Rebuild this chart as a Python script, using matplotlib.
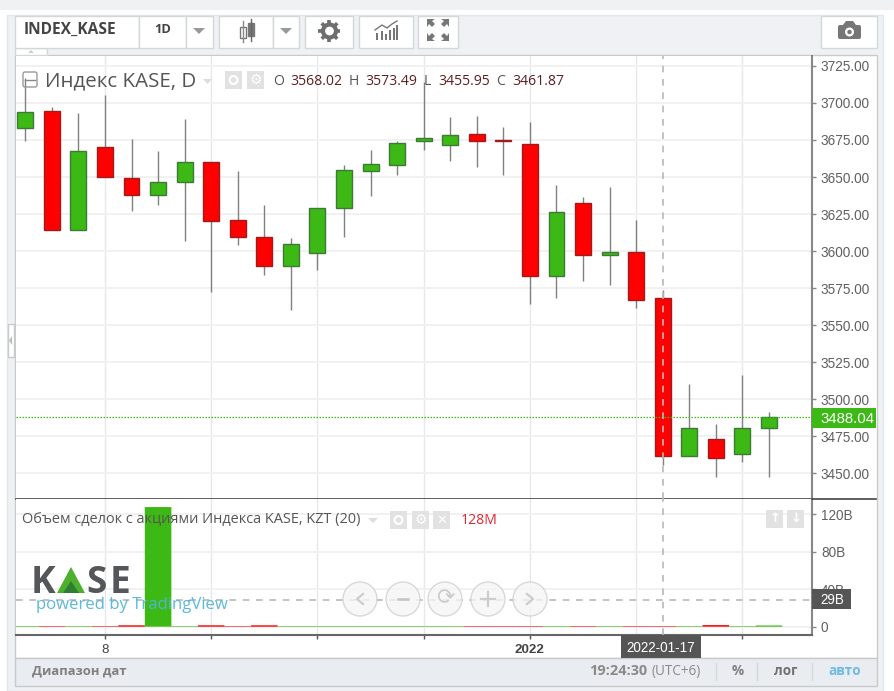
import matplotlib
matplotlib.use("Agg")
import matplotlib.pyplot as plt
from matplotlib.patches import Rectangle, Circle, Polygon, FancyBboxPatch
from matplotlib.transforms import Bbox
import math

# Data
opens = [3682.8, 3694.3, 3614.2, 3670.4, 3649.5, 3638.0, 3646.6, 3660.3, 3620.7, 3609.6,
         3589.9, 3598.4, 3629.0, 3654.2, 3658.2, 3674.4, 3671.7, 3679.2, 3675.0, 3672.2,
         3583.1, 3632.6, 3597.5, 3599.3, 3568.02, 3461.5, 3473.3, 3463.0, 3480.8]
highs = [3716.7, 3697.0, 3692.9, 3705.3, 3675.8, 3667.3, 3689.3, 3660.3, 3653.8, 3631.0,
         3609.0, 3629.0, 3658.0, 3668.2, 3674.2, 3714.2, 3690.2, 3691.1, 3683.5, 3686.8,
         3644.5, 3636.2, 3643.4, 3620.9, 3573.49, 3510.3, 3483.1, 3516.3, 3491.4]
lows = [3674.4, 3614.2, 3614.2, 3649.9, 3627.0, 3631.0, 3606.7, 3572.1, 3604.0, 3583.6,
        3560.2, 3587.2, 3609.2, 3637.1, 3651.5, 3668.2, 3660.9, 3656.5, 3651.3, 3564.2,
        3568.5, 3579.8, 3576.9, 3561.7, 3455.95, 3461.5, 3447.7, 3457.8, 3447.7]
closes = [3694.0, 3614.2, 3667.3, 3649.9, 3638.0, 3646.8, 3660.3, 3620.2, 3609.2, 3589.9,
          3604.5, 3629.0, 3654.7, 3658.7, 3673.1, 3676.5, 3678.1, 3674.4, 3674.6, 3583.1,
          3626.5, 3597.5, 3599.5, 3567.1, 3461.87, 3480.4, 3460.5, 3480.4, 3488.04]
volumes = [0.6, 0.6, 0.6, 0.6, 1.5, 127.7, 0.6, 1.5, 0.6, 1.5,
           0.6, 0.6, 0.6, 0.6, 0.6, 0.6, 0.6, 0.6, 0.6, 0.6,
           0.6, 0.6, 0.6, 0.6, 0.6, 0.6, 1.7, 0.6, 1.3]
price_ticks = [3450, 3475, 3500, 3525, 3550, 3575, 3600, 3625, 3650, 3675, 3700, 3725]
vol_ticks = [0, 40, 80, 120]
vol_tick_labels = ["0", "40B", "80B", "120B"]
grid_days = [3, 7, 11, 15, 19, 23, 27]
grid_labels = ["8", "", "", "", "2022", "", ""]
last_price = 3488.04
cross_day = 24
cross_vol = 29

GREEN = "#3cb914"
RED = "#ff0000"
UI = "Open Sans"
W, H = 895, 691

fig = plt.figure(figsize=(W / 100, H / 100), dpi=100, facecolor="white")


def panel(x0, y0, x1, y1, z):
    return fig.add_axes([x0 / W, 1 - y1 / H, (x1 - x0) / W, (y1 - y0) / H], zorder=z)


# Page background, pixel coordinates
bg = panel(0, 0, W, H, 0)
bg.set_xlim(0, W)
bg.set_ylim(H, 0)
bg.axis("off")
# Overlay for labels and widgets
ov = panel(0, 0, W, H, 5)
ov.set_xlim(0, W)
ov.set_ylim(H, 0)
ov.axis("off")
ov.patch.set_alpha(0)


def box(a, x0, y0, x1, y1, fc="white", ec="#d4d7da", lw=1, **kw):
    a.add_patch(Rectangle((x0, y0), x1 - x0, y1 - y0, fc=fc, ec=ec, lw=lw, **kw))


def label(x, y, s, px, color="#555555", ha="left", va="center", weight="normal", family=UI, **kw):
    return ov.text(x, y, s, fontsize=px * 0.72, color=color, ha=ha, va=va,
                   fontweight=weight, family=family, **kw)


box(bg, 0, 0, W, 10, fc="#f0f1f3", ec="none")
box(bg, 7, 15, 883, 691, fc="#f0f1f5", ec="#e4e6e9")
box(bg, 15, 48, 877, 686, fc="#f0f1f5", ec="none")
box(bg, 15, 55, 877, 658, fc="white", ec="#c8cacc", lw=1)
box(bg, 15, 658, 877, 686, fc="#e9ecf0", ec="#c8cacc", lw=1)
box(bg, 15, 48, 47, 55, fc="white", ec="#d4d7da")
bg.add_patch(Polygon([(28, 53), (34, 53), (31, 50)], fc="#cccccc", ec="none"))
box(bg, 8, 324, 14, 357, fc="white", ec="#c8cacc")
bg.add_patch(Polygon([(12, 336), (12, 345), (9, 340.5)], fc="#bbbbbb", ec="none"))

# Toolbar cells
for x0, x1 in [(15, 139), (139, 186), (186, 213), (219, 273), (273, 299), (305, 353),
               (359, 413), (418, 458), (821, 877)]:
    box(bg, x0, 15.5, x1, 48)
label(24, 30, "INDEX_KASE", 15.5, color="#444444", weight="bold")
label(163, 29.5, "1D", 13, color="#444444", ha="center", weight="bold")
for cx in [199, 286]:
    ov.add_patch(Polygon([(cx - 6, 28), (cx + 6, 28), (cx, 34)], fc="#999999", ec="none"))
# candle icon
ov.plot([243, 243], [21, 42], color="#888888", lw=1)
ov.plot([251, 251], [19, 41], color="#666666", lw=1)
box(ov, 240, 27, 246, 38, fc="white", ec="#777777")
box(ov, 248, 23, 254, 36, fc="#777777", ec="#777777")
# gear icon
ov.add_patch(Circle((329.5, 31), 6.5, fc="white", ec="#6e6e6e", lw=3))
for k in range(8):
    a = k * math.pi / 4
    ov.plot([329.5 + 7 * math.cos(a), 329.5 + 11 * math.cos(a)],
            [31 + 7 * math.sin(a), 31 + 11 * math.sin(a)], color="#6e6e6e", lw=2.6, solid_capstyle="butt")
# indicators icon
for x0, h0 in [(376, 7), (381, 9), (385, 6), (389, 10), (393, 12), (396, 15)]:
    box(ov, x0, 40 - h0, x0 + 2.5, 40, fc="#777777", ec="none")
ov.plot([375, 382, 387, 392, 397], [30, 25, 28, 24, 21], color="#777777", lw=1)
# fullscreen icon
for x0, y0, sx, sy in [(427, 19, 1, 1), (449, 19, -1, 1), (427, 41, 1, -1), (449, 41, -1, -1)]:
    ov.add_patch(Polygon([(x0, y0), (x0 + 8 * sx, y0), (x0 + 5 * sx, y0 + 2 * sy), (x0 + 8 * sx, y0 + 5 * sy),
                          (x0 + 5 * sx, y0 + 8 * sy), (x0 + 2 * sx, y0 + 5 * sy), (x0, y0 + 8 * sy)],
                         fc="#777777", ec="none"))
# camera icon
ov.add_patch(FancyBboxPatch((838, 25), 23, 14, boxstyle="round,pad=0,rounding_size=2", fc="#777777", ec="none"))
ov.add_patch(Polygon([(843, 25), (846, 21), (853, 21), (856, 25)], fc="#777777", ec="none"))
ov.add_patch(Circle((849.5, 32), 4.5, fc="white", ec="none"))
ov.add_patch(Circle((849.5, 32), 2.2, fc="#777777", ec="none"))

# Price panel
ax = panel(16, 55.5, 812.5, 499.3, 2)
for d, o, h, l, c in zip(range(len(opens)), opens, highs, lows, closes):
    up = c >= o
    ax.vlines(d, l, h, color="#808080", lw=1, zorder=3)
    ax.bar(d, abs(c - o), bottom=min(o, c), width=0.6, color=GREEN if up else RED,
           edgecolor="#3c7a36" if up else "#a01c1c", lw=1, zorder=4)
ax.set_xlim(-0.35, 29.64)
ax.set_ylim(3432.5, 3732.0)
ax.axhline(last_price, color=GREEN, ls=(0, (1.2, 1.2)), lw=0.9, zorder=5)
ax.axvline(cross_day, color="#b8b8b8", ls=(0, (4, 4)), lw=1.2, zorder=5)
ax.yaxis.tick_right()
ax.set_yticks(price_ticks)
ax.set_yticklabels(["%.2f" % v for v in price_ticks], fontsize=9.8, color="#606060", family="Liberation Sans")
ax.tick_params(axis="y", length=3, width=1, color="#888888", pad=3.1)
ax.set_xticks(grid_days)
ax.tick_params(axis="x", length=0, labelbottom=False)
ax.grid(True, axis="y", color="#f1f1f1", lw=1.4)
ax.grid(True, axis="x", color="#e8e8e8", lw=1)
ax.set_axisbelow(True)
for s in ["left", "top"]:
    ax.spines[s].set_visible(False)
ax.spines["right"].set_color("#888888")
ax.spines["right"].set_linewidth(1.5)
ax.spines["bottom"].set_color("#444444")
ax.spines["bottom"].set_linewidth(1.2)
# labels are cut by the scale width in the reference
for t in ax.get_yticklabels():
    t.set_clip_on(True)
    t.set_clip_box(Bbox([[812, 0], [868.5, H]]))

# Volume panel
vx = panel(16, 499.3, 812.5, 634.7, 2)
vx.bar(range(len(volumes)), volumes, width=1.0,
       color=[GREEN if c >= o else RED for o, c in zip(opens, closes)], lw=0, zorder=3, snap=False)
vx.set_xlim(-0.35, 29.64)
vx.set_ylim(-8.54, 136.0)
vx.axvline(cross_day, color="#b8b8b8", ls=(0, (4, 4)), lw=1.2, zorder=5)
vx.axhline(cross_vol, color="#b8b8b8", ls=(0, (4, 4)), lw=1.2, zorder=2)
vx.yaxis.tick_right()
vx.set_yticks(vol_ticks)
vx.set_yticklabels(vol_tick_labels, fontsize=9.8, color="#606060", family="Liberation Sans")
vx.tick_params(axis="y", length=3, width=1, color="#888888", pad=3.1)
vx.set_xticks(grid_days)
vx.set_xticklabels(grid_labels, fontsize=9.6, color="#444444", family="Liberation Sans")
vx.get_xticklabels()[4].set_fontweight("bold")
vx.tick_params(axis="x", length=3, width=1, color="#555555", pad=3.5)
vx.grid(True, axis="y", color="#f1f1f1", lw=1.4)
vx.grid(True, axis="x", color="#e8e8e8", lw=1)
vx.set_axisbelow(True)
for s in ["left", "top"]:
    vx.spines[s].set_visible(False)
vx.spines["right"].set_color("#888888")
vx.spines["right"].set_linewidth(1.5)
vx.spines["bottom"].set_color("#666666")
vx.spines["bottom"].set_linewidth(1.5)
ov.plot([812, 876], [499.3, 499.3], color="#444444", lw=1.2)

# Value tags
box(ov, 812, 408, 876, 428, fc=GREEN, ec="none")
label(820, 418.5, "3488.04", 15, color="white", family="Liberation Sans")
box(ov, 812, 589, 851, 609, fc="#555555", ec="none")
label(820, 599.5, "29B", 13.5, color="white", family="Liberation Sans")
box(ov, 621, 635, 701, 658, fc="#555555", ec="none")
label(661, 648, "2022-01-17", 13.5, color="white", ha="center", family="Liberation Sans")

# Main legend
ov.add_patch(FancyBboxPatch((23, 72), 14, 15, boxstyle="round,pad=0,rounding_size=2", fc="none", ec="#999999", lw=1))
ov.plot([25, 35], [80, 80], color="#888888", lw=1)
label(45, 81, "Индекс KASE, D", 20.5, color="#555555")
ov.add_patch(Polygon([(203, 79), (212, 79), (207.5, 84)], fc="#dddddd", ec="none"))
for x0 in [225, 247]:
    box(ov, x0, 71, x0 + 17, 89, fc="#e2e2e2", ec="none")
ov.add_patch(Circle((233.5, 80), 4, fc="none", ec="white", lw=1.5))
label(255.5, 80, "\u2699", 14, color="white", ha="center", family="DejaVu Sans")
for x, name, x_val, val in [(273, "O", 290, "3568.02"), (349, "H", 365, "3573.49"),
                            (424, "L", 438, "3455.95"), (496, "C", 512, "3461.87")]:
    label(x, 81, name, 14, color="#555555")
    label(x_val, 81, val, 14, color="#5d1f1f")

# Volume legend
label(22, 520, "Объем сделок с акциями Индекса KASE, KZT (20)", 14.5, color="#555555")
ov.add_patch(Polygon([(368, 518), (378, 518), (373, 523)], fc="#dddddd", ec="none"))
for x0 in [390, 412, 433]:
    box(ov, x0, 511, x0 + 17, 529, fc="#e2e2e2", ec="none")
ov.add_patch(Circle((398.5, 520), 4, fc="none", ec="white", lw=1.5))
label(420.5, 520, "\u2699", 14, color="white", ha="center", family="DejaVu Sans")
label(441.5, 520, "\u2715", 13, color="white", ha="center", family="DejaVu Sans")
label(461, 521, "128M", 14, color="#e0262e")
for x0, arrow in [(766, "\u2191"), (787, "\u2193")]:
    box(ov, x0, 510, x0 + 17, 528, fc="#e2e2e2", ec="none")
    label(x0 + 8.5, 519, arrow, 13, color="white", ha="center", weight="bold", family="DejaVu Sans")

# Logo
label(31, 593, "K", 37, color="#54565a", va="baseline", weight="bold")
label(86, 593, "S", 37, color="#54565a", va="baseline", weight="bold")
label(110, 593, "E", 37, color="#54565a", va="baseline", weight="bold")
ov.add_patch(Polygon([(57, 593), (71, 567), (85, 593)], fc="#4caf2e", ec="none"))
ov.add_patch(Polygon([(63, 593), (71, 581), (79, 593)], fc="#2e7d32", ec="none"))
label(36, 605, "powered by TradingView", 16.8, color="#55b4dc", alpha=0.95)

# Navigation buttons
for cx in [360, 403, 445, 488, 530]:
    ov.add_patch(Circle((cx, 599), 17, fc="#f5f5f5", ec="#d0d0d0", lw=1, alpha=0.8))
ov.plot([363, 357, 363], [594, 599, 604], color="#cccccc", lw=1.6)
ov.plot([398, 408], [599, 599], color="#c4c4c4", lw=1.8)
label(445, 598, "\u27f3", 22, color="#cccccc", ha="center", family="DejaVu Sans")
ov.plot([481, 495], [599, 599], color="#cccccc", lw=1.6)
ov.plot([488, 488], [592, 606], color="#cccccc", lw=1.6)
ov.plot([527, 533, 527], [594, 599, 604], color="#cccccc", lw=1.6)

# Bottom bar
label(32, 671, "Диапазон дат", 13, color="#808080", weight="bold")
label(589, 671, "19:24:30", 14.5, color="#8a8a8a", weight="bold")
label(652, 671, "(UTC+6)", 13.5, color="#8a8a8a")
label(737.5, 671, "%", 13.5, color="#808080", ha="center", weight="bold")
label(786, 671, "лог", 13.5, color="#707070", ha="center", weight="bold")
label(845, 671, "авто", 13.5, color="#6dbbe0", ha="center", weight="bold")
for x in [716.5, 757, 812]:
    ov.plot([x, x], [663, 680], color="#d6d8da", lw=1)

fig.savefig("out.png", dpi=100)
